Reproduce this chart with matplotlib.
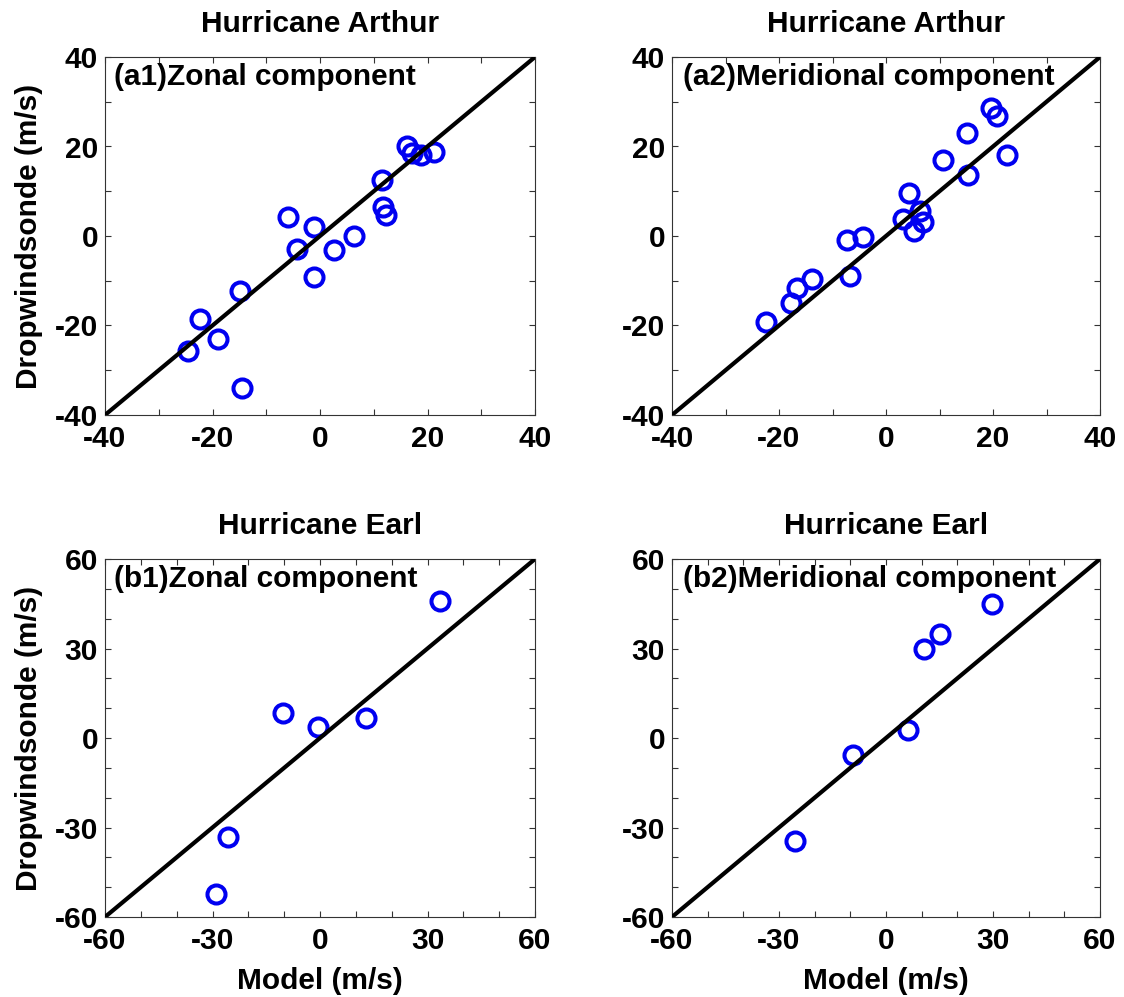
import matplotlib
matplotlib.use('Agg')
import matplotlib.pyplot as plt
from matplotlib.ticker import MultipleLocator, FixedLocator

plt.rcParams['font.family'] = ['Liberation Sans', 'DejaVu Sans']
plt.rcParams['font.weight'] = 'bold'
plt.rcParams['axes.unicode_minus'] = False

# Hurricane Arthur, zonal component
a1_model = [16.1, 17.2, 18.7, 21.2, 11.5, 11.8, 12.3, -6.0, -1.1, -4.2, 2.6, 6.3,
            -1.2, -14.8, -22.4, -19.0, -24.6, -14.6]
a1_drop = [20.1, 18.6, 18.2, 18.8, 12.6, 6.4, 4.8, 4.2, 1.9, -2.8, -3.2, 0.0,
           -9.1, -12.3, -18.5, -23.1, -25.7, -33.9]

# Hurricane Arthur, meridional component
a2_model = [19.6, 20.8, 15.1, 22.7, 10.6, 15.4, 4.3, 3.2, 6.3, 6.9, 5.3, -7.2,
            -4.3, -6.8, -13.8, -16.6, -17.8, -22.4]
a2_drop = [28.5, 26.8, 23.1, 18.1, 17.0, 13.6, 9.5, 3.7, 5.5, 3.2, 1.2, -0.9,
           -0.3, -9.0, -9.6, -11.6, -15.0, -19.3]

# Hurricane Earl, zonal component
b1_model = [33.5, -10.2, -0.5, 12.8, -25.6, -29.1]
b1_drop = [46.0, 8.5, 3.8, 6.8, -33.2, -52.2]

# Hurricane Earl, meridional component
b2_model = [29.8, 15.2, 10.7, 6.1, -9.3, -25.6]
b2_drop = [45.0, 34.9, 30.0, 2.8, -5.8, -34.6]

panels = [
    ('Hurricane Arthur', '(a1)Zonal component', a1_model, a1_drop, 40, [-40, -20, 0, 20, 40]),
    ('Hurricane Arthur', '(a2)Meridional component', a2_model, a2_drop, 40, [-40, -20, 0, 20, 40]),
    ('Hurricane Earl', '(b1)Zonal component', b1_model, b1_drop, 60, [-60, -30, 0, 30, 60]),
    ('Hurricane Earl', '(b2)Meridional component', b2_model, b2_drop, 60, [-60, -30, 0, 30, 60]),
]

fig = plt.figure(figsize=(11.24, 9.97), dpi=100)
W, H = 1124, 997
boxes = [(105, 57, 535, 415), (672, 57, 1100, 415),
         (105, 559, 535, 917), (672, 559, 1100, 917)]

fs = 21.5
for i, (title, label, xm, yd, lim, ticks) in enumerate(panels):
    l, t, r, b = boxes[i]
    ax = fig.add_axes([l / W, 1 - b / H, (r - l) / W, (b - t) / H])
    ax.plot(xm, yd, 'o', mfc='none', mec='#0000f0', ms=13, mew=2.9, zorder=2)
    ax.plot([-lim, lim], [-lim, lim], color='black', lw=3, zorder=3)
    ax.set_xlim(-lim, lim)
    ax.set_ylim(-lim, lim)
    ax.xaxis.set_major_locator(FixedLocator(ticks))
    ax.yaxis.set_major_locator(FixedLocator(ticks))
    ax.xaxis.set_minor_locator(MultipleLocator(10))
    ax.yaxis.set_minor_locator(MultipleLocator(10))
    ax.tick_params(which='both', direction='in', top=True, right=True,
                   length=4, width=0.8, color='#333333')
    ax.tick_params(axis='x', which='major', labelsize=fs, pad=7)
    ax.tick_params(axis='y', which='major', labelsize=fs, pad=5)
    for lab in ax.get_xticklabels() + ax.get_yticklabels():
        lab.set_fontweight('bold')
    for s in ax.spines.values():
        s.set_linewidth(0.8)
        s.set_color('#333333')
    ax.set_title(title, fontsize=fs, fontweight='bold', pad=18)
    ax.text(0.022 if i % 2 == 0 else 0.025, 0.922, label, transform=ax.transAxes,
            fontsize=fs, fontweight='bold', va='baseline', ha='left')
    if i % 2 == 0:
        ax.set_ylabel('Dropwindsonde (m/s)', fontsize=fs, fontweight='bold')
        ax.yaxis.label.set_va('center')
        ax.yaxis.set_label_coords(-0.177, 0.5)
    if i >= 2:
        ax.set_xlabel('Model (m/s)', fontsize=fs, fontweight='bold')
        ax.xaxis.set_label_coords(0.5, -0.14)

fig.savefig('out.png', dpi=100)
